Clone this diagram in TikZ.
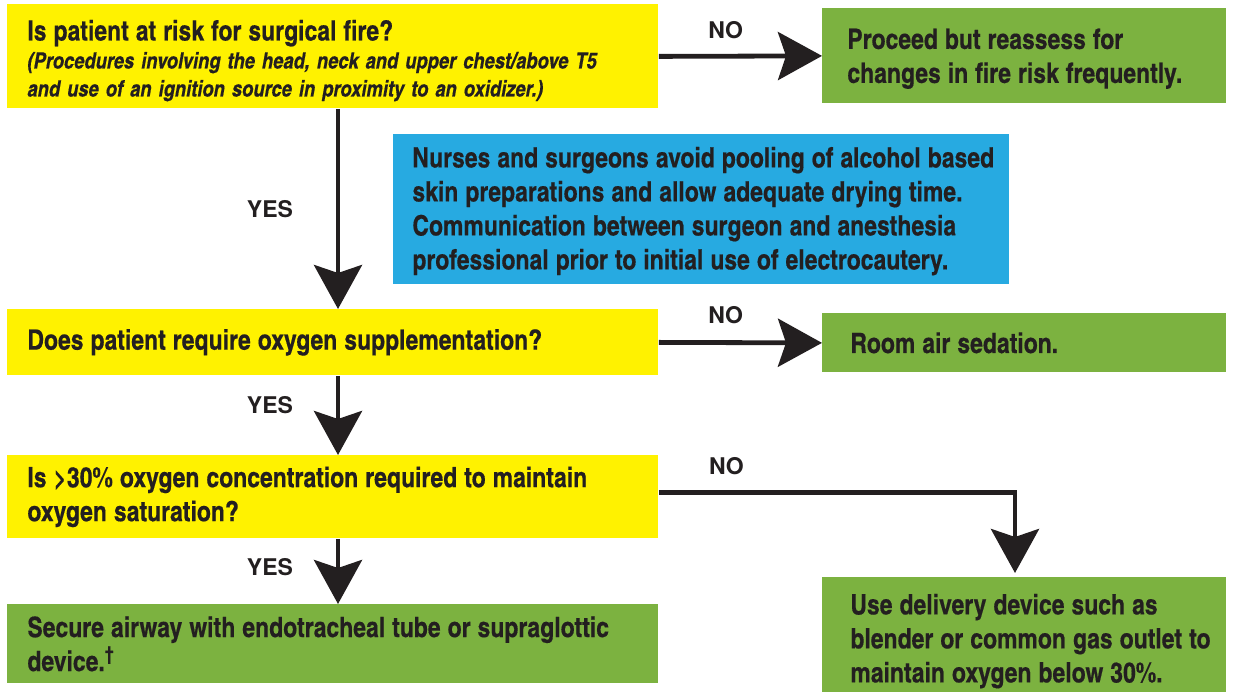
\documentclass[tikz,border=0pt]{standalone}
\usepackage{fontspec}
\usetikzlibrary{arrows.meta}
\newfontfamily\cnfont{texgyreheroscn}[Extension=.otf,UprightFont=*-regular,BoldFont=*-bold,ItalicFont=*-italic,BoldItalicFont=*-bolditalic,FakeBold=0.4]
\newfontfamily\hvfont{texgyreheros}[Extension=.otf,UprightFont=*-regular,BoldFont=*-bold]
\definecolor{ink}{HTML}{231F20}
\definecolor{askyellow}{HTML}{FFF200}
\definecolor{actgreen}{HTML}{7CB240}
\definecolor{noteblue}{HTML}{27AAE1}

\begin{document}
\begin{tikzpicture}[x=0.5pt,y=-0.5pt,
 box/.style={anchor=north west,inner xsep=0pt,align=left,text=ink,font=\cnfont\bfseries\fontsize{14}{17}\selectfont},
 pad/.style={execute at begin node={\leftskip=#1\rightskip=0pt plus 1fil\spaceskip=.25em\relax}},
 flow/.style={draw=ink,line width=2.4pt,-{Stealth[length=22pt,width=24pt,inset=4pt]}},
 answer/.style={text=ink,font=\hvfont\bfseries\fontsize{11.5}{12}\selectfont}]
\useasboundingbox (0,0) rectangle (1233,694);
\node[box,pad=10pt,fill=askyellow,text width=325.5pt,minimum height=52pt] (q1) at (7,4) {\rule{0pt}{14.5pt}Is patient at risk for surgical fire?\\[0pt]{\fontsize{11.2}{14}\selectfont\itshape (Procedures involving the head, neck and upper chest/above T5\\[-3pt]and use of an ignition source in proximity to an oxidizer.)}};
\node[box,pad=12.5pt,fill=actgreen,text width=202pt,minimum height=47.5pt] (g1) at (822,8) {\rule{0pt}{13pt}Proceed but reassess for\\changes in fire risk frequently.};
\node[box,pad=9.5pt,fill=noteblue,text width=308pt,minimum height=75pt] (note) at (393,134) {\rule{0pt}{12pt}Nurses and surgeons avoid pooling of alcohol based\\skin preparations and allow adequate drying time.\\Communication between surgeon and anesthesia\\professional prior to initial use of electrocautery.};
\node[box,pad=10pt,fill=askyellow,text width=325.5pt,minimum height=33pt] (q2) at (7,309) {Does patient require oxygen supplementation?};
\node[box,pad=14pt,fill=actgreen,text width=202pt,minimum height=29.5pt] (g2) at (822,313) {Room air sedation.};
\node[box,pad=10pt,fill=askyellow,text width=325.5pt,minimum height=41.5pt] (q3) at (7,455) {Is >30\% oxygen concentration required to maintain\\oxygen saturation?};
\node[box,pad=10pt,fill=actgreen,text width=325.5pt,minimum height=39.5pt] (g3) at (7,604) {Secure airway with endotracheal tube or supraglottic\\device.\textsuperscript{\dag}};
\node[box,pad=14pt,fill=actgreen,text width=202pt,minimum height=57.5pt,inner ysep=0pt] (g4) at (822,577) {\rule{0pt}{16.5pt}Use delivery device such as\\blender or common gas outlet to\\maintain oxygen below 30\%.};
\coordinate (spine) at (338,0);
\coordinate (drop) at (1015,0);
\draw[flow] (q1.east) -- (g1.west) node[answer,pos=0.41,yshift=13pt] {NO};
\draw[flow] (q1.south -| spine) -- (q2.north -| spine) node[answer,midway,xshift=-34pt] {YES};
\draw[flow] (q2.east) -- (g2.west) node[answer,pos=0.41,yshift=13.5pt] {NO};
\draw[flow] (q2.south -| spine) -- (q3.north -| spine) node[answer,pos=0.375,xshift=-34pt] {YES};
\draw[flow] (q3.south -| spine) -- (g3.north -| spine) node[answer,pos=0.44,xshift=-34pt] {YES};
\draw[flow,shorten >=2pt] ([yshift=2pt]q3.east) -- ([yshift=2pt]q3.east -| drop) node[answer,pos=0.19,yshift=13.5pt] {NO} -- (g4.north -| drop);
\end{tikzpicture}
\end{document}
